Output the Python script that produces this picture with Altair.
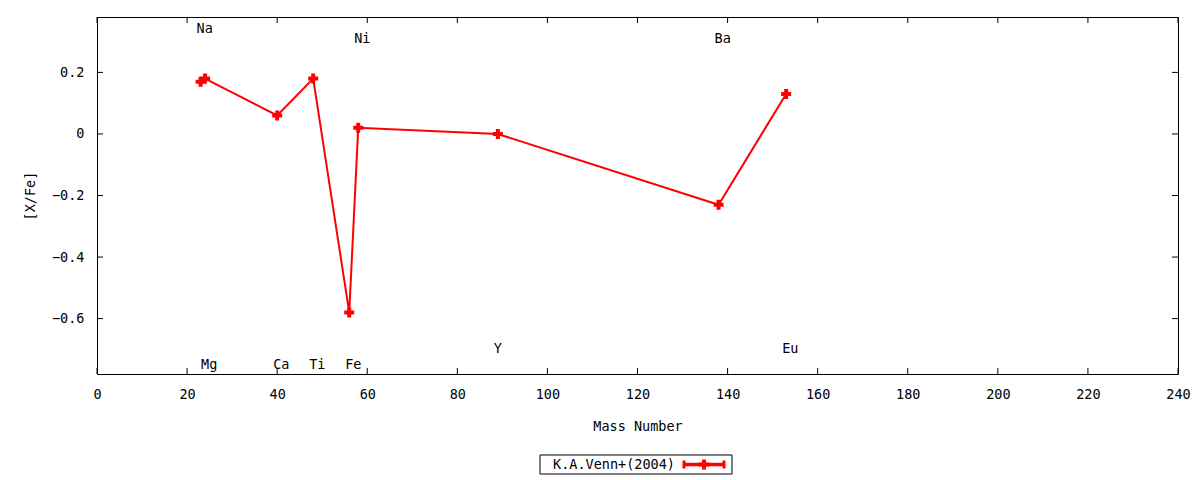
import altair as alt
import pandas as pd

# Data
elements = ["Na", "Mg", "Ca", "Ti", "Fe", "Ni", "Y", "Ba", "Eu"]
mass = [23, 24, 40, 48, 56, 58, 89, 138, 153]
xfe = [0.17, 0.18, 0.06, 0.18, -0.58, 0.02, 0.00, -0.23, 0.13]
label_y = [0.34, -0.75, -0.75, -0.75, -0.75, 0.31, -0.70, 0.31, -0.70]

x_ticks = list(range(0, 241, 20))
y_ticks = [-0.6, -0.4, -0.2, 0.0, 0.2]
series_name = "K.A.Venn+(2004)"

W, H = 1081, 357
FONT = "DejaVu Sans Mono"
RED = "#ff0000"

points = pd.DataFrame({"mass": mass, "xfe": xfe, "idx": range(len(mass))})
labels = pd.DataFrame({"mass": mass, "xfe": label_y, "el": elements})
xt = pd.DataFrame({"mass": x_ticks})
yt = pd.DataFrame({"xfe": y_ticks})
one = pd.DataFrame({"name": [series_name]})

xscale = alt.Scale(domain=[0, 240], nice=False, zero=False)
yscale = alt.Scale(domain=[-0.78, 0.38], nice=False, zero=False)

xaxis = alt.Axis(values=x_ticks, title="Mass Number", grid=False, domain=False, ticks=False,
                 labelPadding=13, titlePadding=19, labelFlush=False, labelOverlap=False)
yaxis = alt.Axis(values=y_ticks, title="[X/Fe]", grid=False, domain=False, ticks=False,
                 labelPadding=13, titlePadding=14, format="~g", labelOverlap=False)

X = alt.X("mass:Q", scale=xscale, axis=xaxis)
Y = alt.Y("xfe:Q", scale=yscale, axis=yaxis)

line = alt.Chart(points).mark_line(color=RED, strokeWidth=2).encode(x=X, y=Y, order="idx:Q")
marks = alt.Chart(points).mark_point(shape="cross", filled=True, size=100, color=RED, opacity=1).encode(x=X, y=Y)

text = alt.Chart(labels).mark_text(align="left", baseline="middle", dx=-4, font=FONT, fontSize=13.5,
                                   color="black").encode(x=X, y=Y, text="el:N")

# gnuplot style inward ticks, mirrored on all four sides
xt_bottom = alt.Chart(xt).mark_rule(color="black").encode(x=X, y=alt.value(H), y2=alt.value(H - 6))
xt_top = alt.Chart(xt).mark_rule(color="black").encode(x=X, y=alt.value(0), y2=alt.value(6))
yt_left = alt.Chart(yt).mark_rule(color="black").encode(y=Y, x=alt.value(0), x2=alt.value(6))
yt_right = alt.Chart(yt).mark_rule(color="black").encode(y=Y, x=alt.value(W), x2=alt.value(W - 6))

# key box below the plot
key_box = alt.Chart(one).mark_rect(fill="white", stroke="black", strokeWidth=1).encode(
    x=alt.value(443), x2=alt.value(635), y=alt.value(438), y2=alt.value(457))
key_text = alt.Chart(one).mark_text(align="right", baseline="middle", font=FONT, fontSize=13.5,
                                    color="black").encode(x=alt.value(578), y=alt.value(447.5), text="name:N")
key_line = alt.Chart(one).mark_rule(color=RED, strokeWidth=3.5).encode(
    x=alt.value(586), x2=alt.value(628), y=alt.value(447.5))
key_cap1 = alt.Chart(one).mark_rule(color=RED, strokeWidth=3).encode(
    x=alt.value(587), y=alt.value(443.5), y2=alt.value(451.5))
key_cap2 = alt.Chart(one).mark_rule(color=RED, strokeWidth=3).encode(
    x=alt.value(627), y=alt.value(443.5), y2=alt.value(451.5))
key_mid = alt.Chart(one).mark_point(shape="cross", filled=True, size=100, color=RED, opacity=1).encode(
    x=alt.value(607), y=alt.value(447.5))

chart = alt.layer(
    xt_bottom, xt_top, yt_left, yt_right, line, marks, text,
    key_box, key_text, key_line, key_cap1, key_cap2, key_mid
).properties(
    width=W, height=H,
    autosize=alt.AutoSizeParams(type="none"),
    padding={"left": 89, "top": 9, "right": 14, "bottom": 103},
    background="white"
).configure_view(
    stroke="black", strokeWidth=1
).configure_axis(
    labelFont=FONT, titleFont=FONT, labelFontSize=13.5, titleFontSize=13.5,
    titleFontWeight="normal", labelColor="black", titleColor="black"
)

chart.save("out.html", embed_options={"renderer": "svg", "actions": False})
